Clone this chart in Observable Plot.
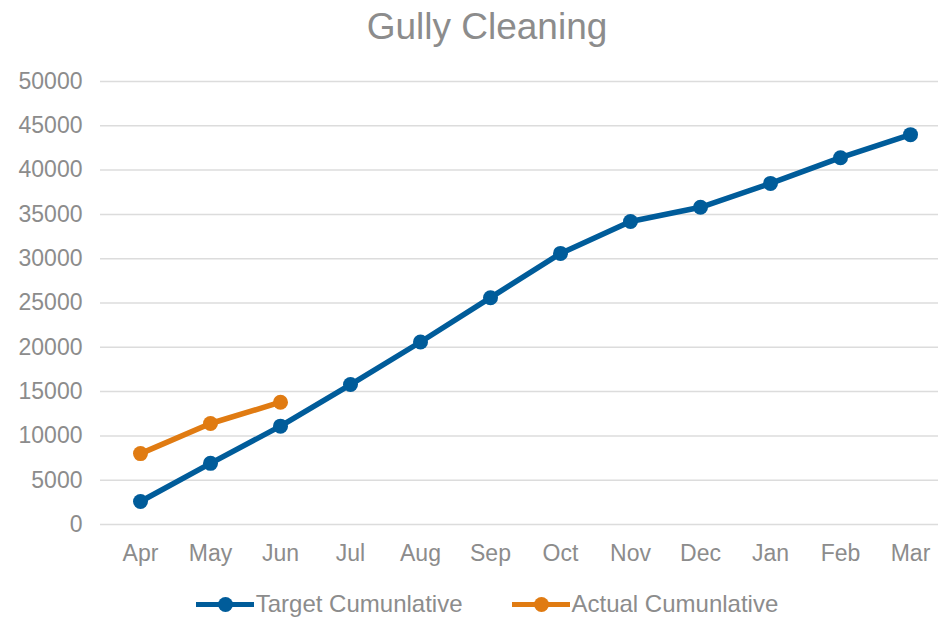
<!DOCTYPE html>
<html>
<head>
<meta charset="utf-8">
<script src="https://cdn.jsdelivr.net/npm/d3@7"></script>
<script src="https://cdn.jsdelivr.net/npm/@observablehq/plot@0.6"></script>
<style>
  body { margin: 0; background: #fff; font-family: "Liberation Sans", Arial, sans-serif; }
  #wrap { width: 938px; height: 618px; position: relative; overflow: hidden; background: #fff; }
  #title { height: 56px; box-sizing: border-box; padding-left: 36px; text-align: center;
           font-size: 37px; line-height: 54px; color: #8c8c8c; }
  #chart { height: 524px; }
  #legend { height: 38px; box-sizing: border-box; padding-left: 36px; padding-top: 10px; display: flex;
            justify-content: center; align-items: center; gap: 49px;
            font-size: 24px; color: #8c8c8c; }
  .item { display: flex; align-items: center; }
  .swatch { position: relative; width: 58px; height: 5px; margin-right: 2px; }
  .swatch .dot { position: absolute; left: 22px; top: -5px; width: 15px; height: 15px; border-radius: 50%; }
</style>
</head>
<body>
<div id="wrap">
  <div id="title"></div>
  <div id="chart"></div>
  <div id="legend"></div>
</div>
<script>
const chartTitle = "Gully Cleaning";
const months = ["Apr", "May", "Jun", "Jul", "Aug", "Sep", "Oct", "Nov", "Dec", "Jan", "Feb", "Mar"];
const targetCumulative = [2600, 6900, 11100, 15800, 20600, 25600, 30600, 34200, 35800, 38500, 41400, 44000];
const actualCumulative = [8000, 11400, 13800];
const yTicks = [0, 5000, 10000, 15000, 20000, 25000, 30000, 35000, 40000, 45000, 50000];
const seriesNames = ["Target Cumunlative", "Actual Cumunlative"];
const seriesColors = ["#005C9A", "#E07B12"];

const targetData = targetCumulative.map((v, i) => ({month: months[i], value: v, series: seriesNames[0]}));
const actualData = actualCumulative.map((v, i) => ({month: months[i], value: v, series: seriesNames[1]}));

document.getElementById("title").textContent = chartTitle;

const textColor = "#8c8c8c";
const chart = Plot.plot({
  width: 938,
  height: 524,
  marginLeft: 100,
  marginRight: 0,
  marginTop: 25,
  marginBottom: 56,
  style: {fontFamily: "'Liberation Sans', Arial, sans-serif", fontSize: "23px", color: textColor, background: "transparent"},
  x: {type: "point", domain: months, range: [139, 911], padding: 0},
  y: {domain: [0, 50000]},
  marks: [
    Plot.ruleY(yTicks, {stroke: "#dcdcdc", strokeWidth: 1.5}),
    Plot.axisY(yTicks, {tickSize: 0, tickPadding: 18, label: null, tickFormat: d => String(d), fill: textColor}),
    Plot.axisX({tickSize: 0, tickPadding: 20, label: null, fill: textColor}),
    Plot.line(targetData, {x: "month", y: "value", stroke: seriesColors[0], strokeWidth: 5.5}),
    Plot.dot(targetData, {x: "month", y: "value", r: 7.5, fill: seriesColors[0]}),
    Plot.line(actualData, {x: "month", y: "value", stroke: seriesColors[1], strokeWidth: 5.5}),
    Plot.dot(actualData, {x: "month", y: "value", r: 7.5, fill: seriesColors[1]})
  ]
});
document.getElementById("chart").appendChild(chart);

const legend = document.getElementById("legend");
seriesNames.forEach((name, i) => {
  const item = document.createElement("div");
  item.className = "item";
  const sw = document.createElement("div");
  sw.className = "swatch";
  sw.style.background = seriesColors[i];
  const dot = document.createElement("div");
  dot.className = "dot";
  dot.style.background = seriesColors[i];
  sw.appendChild(dot);
  const label = document.createElement("span");
  label.textContent = name;
  item.appendChild(sw);
  item.appendChild(label);
  legend.appendChild(item);
});
</script>
</body>
</html>
